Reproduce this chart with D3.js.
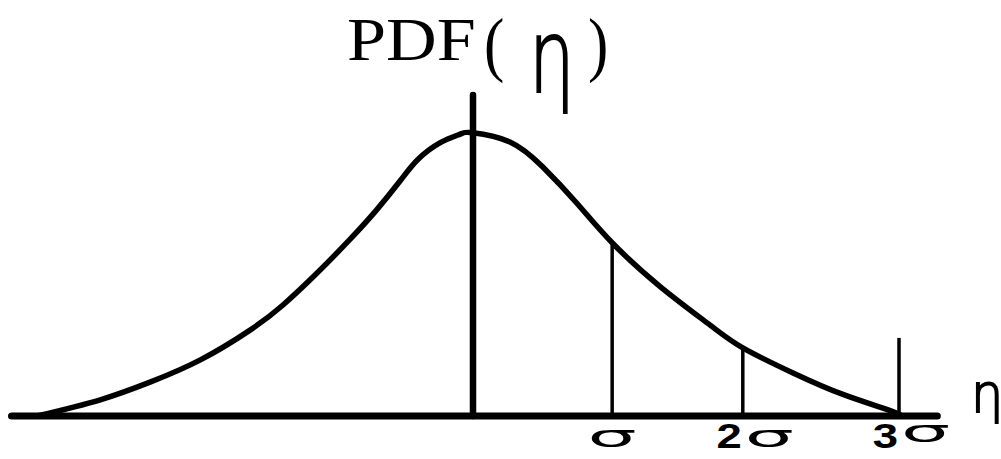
<!DOCTYPE html>
<html>
<head>
<meta charset="utf-8">
<script src="https://cdn.jsdelivr.net/npm/d3@7"></script>
<style>
body { margin: 0; background: #fff; }
</style>
</head>
<body>
<div id="chart"></div>
<script>
// curve points (eta in sigma units, pdf value)
var etaVals = [-3.07, -2.63, -2.27, -1.92, -1.57, -1.34, -1.10, -0.87, -0.68, -0.51, -0.39, -0.23, -0.09, 0,
               0.26, 0.49, 0.73, 0.98, 1.32, 1.67, 1.90, 2.25, 2.61, 2.96, 3.0];
var pdfVals = [0, 0.0225, 0.048, 0.079, 0.121, 0.156, 0.201, 0.248, 0.290, 0.332, 0.361, 0.385, 0.397, 0.399,
               0.386, 0.351, 0.300, 0.244, 0.182, 0.128, 0.096, 0.061, 0.030, 0.006, 0];

// sigma markers
var markerEta = [0.98, 1.90, 3.0];
var markerTop = [0.244, 0.096, 0.110];
var markerLabels = ["σ", "2σ", "3σ"];

// axis extents
var xAxisExtent = [-3.25, 3.27];
var yAxisTop = 0.452;

var w = 1001;
var h = 459;

var svg = d3.select("#chart")
  .append("svg")
  .attr("width", w)
  .attr("height", h);

var x = d3.scaleLinear().domain([-3, 3]).range([47, 899]);
var y = d3.scaleLinear().domain([0, 0.4]).range([416, 132]);

var pts = etaVals.map(function(e, i) { return [e, pdfVals[i]]; });

//the bell curve
var line = d3.line()
  .x(function(d) { return x(d[0]); })
  .y(function(d) { return y(d[1]); })
  .curve(d3.curveNatural);

svg.append("path")
  .datum(pts)
  .attr("d", line)
  .attr("fill", "none")
  .attr("stroke", "#000")
  .attr("stroke-width", 5.5);

//horizontal axis
svg.append("line")
  .attr("x1", x(xAxisExtent[0]))
  .attr("x2", x(xAxisExtent[1]))
  .attr("y1", y(0))
  .attr("y2", y(0))
  .attr("stroke", "#000")
  .attr("stroke-width", 7)
  .attr("stroke-linecap", "round");

//vertical axis
svg.append("line")
  .attr("x1", x(0))
  .attr("x2", x(0))
  .attr("y1", y(0))
  .attr("y2", y(yAxisTop))
  .attr("stroke", "#000")
  .attr("stroke-width", 6.5)
  .attr("stroke-linecap", "round");

//sigma lines
svg.selectAll(".marker")
  .data(markerEta)
  .enter()
  .append("line")
  .attr("class", "marker")
  .attr("x1", function(d) { return x(d); })
  .attr("x2", function(d) { return x(d); })
  .attr("y1", y(0))
  .attr("y2", function(d, i) { return y(markerTop[i]); })
  .attr("stroke", "#000")
  .attr("stroke-width", 3.5);

//sigma labels
var lab = svg.selectAll(".lab")
  .data(markerLabels)
  .enter()
  .append("g")
  .attr("class", "lab")
  .attr("transform", function(d, i) { return "translate(" + x(markerEta[i]) + ",447)"; });

lab.each(function(d, i) {
  var g = d3.select(this);
  var prefix = d.slice(0, -1);
  if (prefix) {
    g.append("text")
      .attr("transform", "translate(-1,1) scale(1.3,1)")
      .attr("text-anchor", "end")
      .style("font-family", "Liberation Sans")
      .style("font-weight", "bold")
      .style("font-size", "35px")
      .text(prefix);
  }
  var raise = i == markerLabels.length - 1 ? -5 : 0;
  g.append("text")
    .attr("transform", prefix ? "translate(2," + raise + ") scale(2.5,1)" : "scale(2.5,1)")
    .attr("text-anchor", prefix ? "start" : "middle")
    .style("font-family", "DejaVu Sans")
    .style("font-size", "31px")
    .text("σ");
});

//title PDF(eta)
svg.append("text")
  .attr("transform", "translate(347,60) scale(1.15,1)")
  .style("font-family", "Liberation Serif")
  .style("font-size", "61px")
  .text("PDF");

svg.append("text")
  .attr("transform", "translate(484,68) scale(1,1.19)")
  .style("font-family", "Liberation Serif")
  .style("font-size", "61px")
  .text("(");

svg.append("text")
  .attr("transform", "translate(588,68) scale(1,1.19)")
  .style("font-family", "Liberation Serif")
  .style("font-size", "61px")
  .text(")");

svg.append("text")
  .attr("transform", "translate(529,91.5) scale(1.2,1.68)")
  .style("font-family", "DejaVu Sans")
  .style("font-weight", 200)
  .style("font-size", "60px")
  .attr("stroke", "#000")
  .attr("stroke-width", 1.2)
  .text("η");

//eta axis label
svg.append("text")
  .attr("transform", "translate(971,412) scale(0.85,0.88)")
  .style("font-family", "DejaVu Sans")
  .style("font-weight", 200)
  .style("font-size", "60px")
  .attr("stroke", "#000")
  .attr("stroke-width", 2)
  .text("η");
</script>
</body>
</html>
